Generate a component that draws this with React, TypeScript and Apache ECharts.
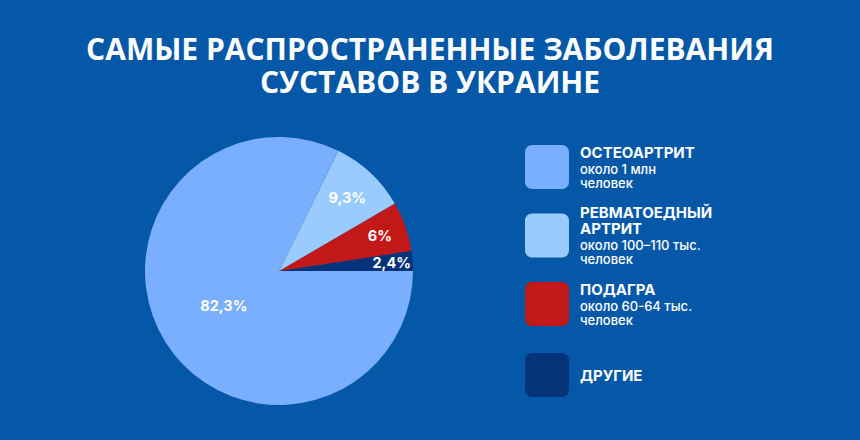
import React, { useEffect, useRef } from 'react'
import * as echarts from 'echarts'

const titleText = 'САМЫЕ РАСПРОСТРАНЕННЫЕ ЗАБОЛЕВАНИЯ\nСУСТАВОВ В УКРАИНЕ'

// pie order: counter-clockwise from 3 o'clock
const names = ['ДРУГИЕ', 'ПОДАГРА', 'РЕВМАТОЕДНЫЙ АРТРИТ', 'ОСТЕОАРТРИТ']
const values = [2.4, 6, 9.3, 82.3]
const colors = ['#04337a', '#c21818', '#99cbff', '#7aaeff']
// distance of each percentage label from the centre
const labelDist = [110, 104, 97, 62]

// legend rows top to bottom
const legendNames = ['ОСТЕОАРТРИТ', 'РЕВМАТОЕДНЫЙ АРТРИТ', 'ПОДАГРА', 'ДРУГИЕ']
const legendTitles = ['ОСТЕОАРТРИТ', 'РЕВМАТОЕДНЫЙ\nАРТРИТ', 'ПОДАГРА', 'ДРУГИЕ']
const legendSubs = ['около 1 млн\nчеловек', 'около 100–110 тыс.\nчеловек', 'около 60-64 тыс.\nчеловек', '']

const BG = '#0558a8'
const FONT = 'Inter, Roboto, sans-serif'
const ICON = 'path://M7,0H37A7,7,0,0,1,44,7V37A7,7,0,0,1,37,44H7A7,7,0,0,1,0,37V7A7,7,0,0,1,7,0Z'
const CENTER = [279, 271]
const R = 134

const fmtPct = (v: number) => String(v).replace('.', ',') + '%'

const App = () => {
  const chartRef = useRef<HTMLDivElement | null>(null)

  useEffect(() => {
    document.body.style.margin = '0'
    if (!chartRef.current) return
    const chart = echarts.init(chartRef.current, null, { renderer: 'svg' })

    const rowCenters = [168.5, 237, 305.5, 375]

    const legends = legendNames.map((name, i) => {
      const titleLines = legendTitles[i].split('\n').length
      const subLines = legendSubs[i] ? legendSubs[i].split('\n').length : 0
      const h = Math.max(44, titleLines * 16 + (subLines ? subLines * 15 + 2 : 0))
      const colorIdx = names.indexOf(name)
      return {
        orient: 'vertical',
        left: 525,
        top: rowCenters[i] - h / 2,
        padding: 0,
        itemWidth: 44,
        itemHeight: 44,
        icon: ICON,
        selectedMode: false,
        data: [{ name, itemStyle: { color: colors[colorIdx] } }],
        formatter: () => {
          const t = legendTitles[i].split('\n').map((l) => `{a|${l}}`).join('\n')
          const s = legendSubs[i]
            ? '\n' + legendSubs[i].split('\n').map((l, j) => `{${j === 0 ? 'c' : 'b'}|${l}}`).join('\n')
            : ''
          return t + s
        },
        textStyle: {
          rich: {
            a: { color: '#fff', fontFamily: FONT, fontWeight: 'bold', fontSize: 15, lineHeight: 16, padding: [0, 0, 0, 6] },
            b: { color: '#fff', fontFamily: FONT, fontWeight: 500, fontSize: 13, lineHeight: 15, padding: [0, 0, 0, 6] },
            c: { color: '#fff', fontFamily: FONT, fontWeight: 500, fontSize: 13, lineHeight: 15, padding: [2, 0, 0, 6] },
          },
        },
      }
    })

    const pieData = names.map((name, i) => ({ name, value: values[i], itemStyle: { color: colors[i] } }))

    // one transparent ring per slice, only used to place its label
    const labelSeries = names.map((_, k) => ({
      type: 'pie',
      center: CENTER,
      radius: [labelDist[k] - 20, labelDist[k] + 20],
      startAngle: 0,
      clockwise: false,
      silent: true,
      legendHoverLink: false,
      labelLine: { show: false },
      data: names.map((name, i) => ({
        name,
        value: values[i],
        itemStyle: { color: 'transparent' },
        label: {
          show: i === k,
          position: 'inside',
          color: '#fff',
          fontFamily: FONT,
          fontWeight: 'bold',
          fontSize: 14.5,
          formatter: (p: any) => fmtPct(p.value),
        },
      })),
    }))

    chart.setOption({
      animation: false,
      backgroundColor: BG,
      title: {
        text: titleText,
        left: 430,
        top: 32,
        padding: 0,
        textAlign: 'center',
        textStyle: {
          color: '#fff',
          fontFamily: '"Open Sans", sans-serif',
          fontWeight: 'bold',
          fontSize: 30,
          lineHeight: 33,
        },
      },
      legend: legends,
      series: [
        {
          type: 'pie',
          center: CENTER,
          radius: [0, R],
          startAngle: 0,
          clockwise: false,
          silent: true,
          label: { show: false },
          labelLine: { show: false },
          data: pieData,
        },
        ...labelSeries,
      ],
    })

    return () => {
      chart.dispose()
    }
  }, [])

  return <div ref={chartRef} style={{ width: 860, height: 440, background: BG }} />
}

export default App
